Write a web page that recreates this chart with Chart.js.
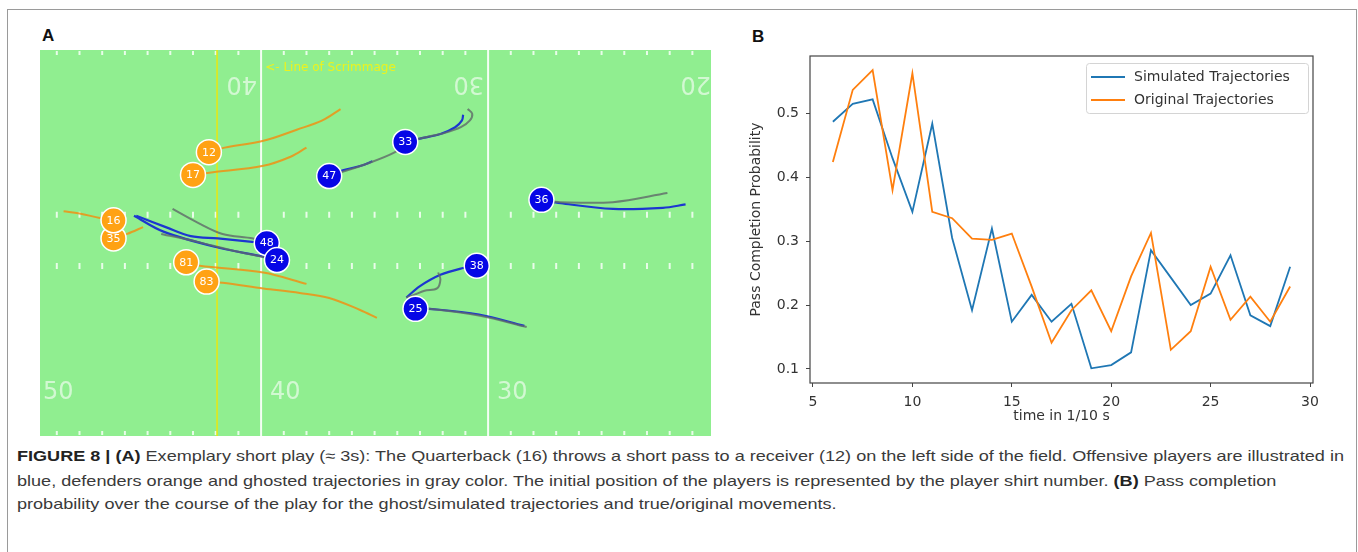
<!DOCTYPE html>
<html>
<head>
<meta charset="utf-8">
<title>Figure 8</title>
<script src="https://cdn.jsdelivr.net/npm/chart.js@4.4.1/dist/chart.umd.min.js"></script>
<style>
  body { margin: 0; width: 1358px; height: 552px; background: #fff; position: relative; overflow: hidden; }
  .frame { position: absolute; left: 7px; top: 9px; width: 1350px; height: 600px; border: 1px solid #9a9a9a; box-sizing: border-box; }
  .panel-label { position: absolute; font: bold 17px "Liberation Sans", Arial, sans-serif; color: #111; }
  #fieldChart { position: absolute; left: 40px; top: 50px; }
  #probChart { position: absolute; left: 740px; top: 20px; }
  .caption { position: absolute; left: 17px; font: 15px "Liberation Sans", Arial, sans-serif; color: #3a3a3a;
             white-space: nowrap; line-height: 18px; transform-origin: 0 50%; }
  .caption b { color: #222; }
</style>
</head>
<body>
<div class="frame"></div>
<div class="panel-label" style="left:42px; top:26px;">A</div>
<div class="panel-label" style="left:752px; top:27px;">B</div>
<canvas id="fieldChart" width="671" height="386"></canvas>
<canvas id="probChart" width="600" height="420"></canvas>

<div class="caption" style="top:447px;"><b>FIGURE 8 | (A)</b> Exemplary short play (≈ 3s): The Quarterback (16) throws a short pass to a receiver (12) on the left side of the field. Offensive players are illustrated in</div>
<div class="caption" style="top:472px;">blue, defenders orange and ghosted trajectories in gray color. The initial position of the players is represented by the player shirt number. <b>(B)</b> Pass completion</div>
<div class="caption" style="top:495px;">probability over the course of the play for the ghost/simulated trajectories and true/original movements.</div>

<script>
// ---------- Panel B: pass completion probability ----------
const timeSteps = [6, 7, 8, 9, 10, 11, 12, 13, 14, 15, 16, 17, 18, 19, 20, 21, 22, 23, 24, 25, 26, 27, 28, 29];
const simulatedProb = [0.487, 0.515, 0.522, 0.43, 0.346, 0.484, 0.305, 0.192, 0.320, 0.174, 0.216, 0.174,
                       0.202, 0.101, 0.106, 0.126, 0.286, 0.243, 0.200, 0.218, 0.278, 0.184, 0.167, 0.260];
const originalProb = [0.424, 0.537, 0.568, 0.380, 0.563, 0.346, 0.336, 0.304, 0.302, 0.312, 0.229, 0.141,
                      0.192, 0.223, 0.159, 0.245, 0.313, 0.130, 0.159, 0.260, 0.177, 0.213, 0.174, 0.229];
const seriesNames = ['Simulated Trajectories', 'Original Trajectories'];
const xTickValues = [5, 10, 15, 20, 25, 30];
const yTickValues = [0.1, 0.2, 0.3, 0.4, 0.5];

// ---------- Panel A: field (x = yards from midfield, y = yards from bottom of view) ----------
const yardLines = [10, 20];
const bottomNumbers = ['50', '40', '30'];
const bottomNumberAt = [0, 10, 20];
const topNumbers = ['40', '30', '20'];
const topNumberAt = [10, 20, 30];
const hashRows = [9.74, 7.49];
const scrimmageX = 8.06;

// drawing order = list order, so later shirts sit on top
const defenderShirts = ['12', '17', '35', '16', '81', '83'];
const defenderStart = [[7.7, 12.5], [7.0, 11.5], [3.5, 8.7], [3.5, 9.5], [6.7, 7.65], [7.6, 6.8]];
const offenseShirts = ['47', '33', '36', '48', '24', '38', '25'];
const offenseStart = [[13.0, 11.45], [16.35, 12.95], [22.35, 10.4], [10.25, 8.5], [10.7, 7.75], [19.5, 7.5], [16.8, 5.6]];

const defenderPaths = [
  [[7.7, 12.5], [8.4, 12.7], [10.1, 13.0], [11.6, 13.5], [12.7, 13.9], [13.5, 14.4]],
  [[7.0, 11.5], [7.8, 11.6], [10.1, 11.9], [11.3, 12.3], [12.0, 12.7]],
  [[3.5, 9.5], [2.9, 9.6], [2.0, 9.8], [1.3, 9.9]],
  [[3.5, 8.7], [4.1, 8.9], [4.8, 9.2]],
  [[6.7, 7.65], [7.3, 7.5], [10.1, 7.2], [12.0, 6.7]],
  [[7.6, 6.8], [8.3, 6.75], [10.1, 6.5], [11.7, 6.3], [13.0, 6.08], [14.36, 5.55], [15.1, 5.2]]
];
const offensePaths = [
  [[13.0, 11.45], [13.6, 11.7], [14.4, 11.9], [14.9, 12.1]],
  [[16.35, 12.95], [17.0, 13.1], [17.9, 13.3], [18.55, 13.6], [18.85, 13.9], [18.9, 14.15]],
  [[22.35, 10.4], [23.2, 10.25], [25.5, 10.0], [27.7, 10.05], [28.7, 10.2]],
  [[10.25, 8.5], [9.6, 8.55], [8.1, 8.7], [6.9, 8.8], [5.8, 9.2], [4.5, 9.7]],
  [[10.7, 7.75], [10.1, 7.9], [8.1, 8.3], [5.7, 9.0], [4.4, 9.7]],
  [[19.5, 7.5], [18.9, 7.4], [17.9, 7.1], [17.0, 6.6], [16.4, 6.1]],
  [[16.8, 5.6], [17.4, 5.6], [19.6, 5.35], [21.6, 4.85]]
];
const ghostPaths = [
  [[13.0, 11.45], [14.4, 11.9], [15.9, 12.5], [16.35, 12.95]],
  [[16.35, 12.95], [17.2, 13.15], [18.1, 13.35], [18.8, 13.6], [19.2, 13.9], [19.3, 14.2], [19.1, 14.4]],
  [[22.35, 10.4], [23.2, 10.3], [25.5, 10.3], [27.9, 10.7]],
  [[6.1, 10.0], [7.2, 9.4], [8.3, 8.9], [9.65, 8.7], [10.25, 8.5]],
  [[5.6, 8.9], [7.2, 8.55], [8.6, 8.2], [10.0, 7.9], [10.7, 7.75]],
  [[16.4, 6.1], [16.7, 6.2], [17.2, 6.4], [17.75, 6.5], [17.9, 6.9], [17.8, 7.2]],
  [[16.8, 5.6], [17.4, 5.6], [19.65, 5.3], [21.7, 4.8]]
];

const toPoints = arr => arr.map(([x, y]) => ({ x, y }));

function pathDataset(path, color, width, order) {
  return { data: toPoints(path), showLine: true, pointRadius: 0, borderColor: color,
           borderWidth: width, tension: 0.35, order: order };
}

// green turf, hash marks and yard numbers
const fieldPlugin = {
  id: 'field',
  beforeDatasetsDraw(chart) {
    const { ctx, chartArea: a, scales: { x, y } } = chart;
    ctx.save();
    ctx.fillStyle = '#90ee90';
    ctx.fillRect(a.left, a.top, a.right - a.left, a.bottom - a.top);

    ctx.strokeStyle = 'rgba(255,255,255,0.8)';
    ctx.lineWidth = 2;
    for (let yd = Math.ceil(x.min); yd <= x.max; yd++) {
      if (yd % 10 === 0) continue;
      const px = x.getPixelForValue(yd);
      ctx.beginPath();
      hashRows.forEach(r => {
        const py = y.getPixelForValue(r);
        ctx.moveTo(px, py - 3); ctx.lineTo(px, py + 3);
      });
      ctx.moveTo(px, a.top + 1); ctx.lineTo(px, a.top + 5);
      ctx.moveTo(px, a.bottom - 5); ctx.lineTo(px, a.bottom - 1);
      ctx.stroke();
    }

    ctx.font = '24px "DejaVu Sans"';
    ctx.fillStyle = 'rgba(255,255,255,0.6)';
    ctx.textBaseline = 'middle';
    ctx.textAlign = 'left';
    bottomNumbers.forEach((t, i) => {
      ctx.fillText(t, x.getPixelForValue(bottomNumberAt[i]) + 9, y.getPixelForValue(1.89));
    });
    topNumbers.forEach((t, i) => {
      ctx.save();
      ctx.translate(x.getPixelForValue(topNumberAt[i]) - 4, y.getPixelForValue(15.55));
      ctx.rotate(Math.PI);
      ctx.fillText(t, 0, 0);
      ctx.restore();
    });

    ctx.font = '12px "DejaVu Sans"';
    ctx.fillStyle = '#ecf21e';
    ctx.fillText('<- Line of Scrimmage', x.getPixelForValue(10.18), y.getPixelForValue(16.2));
    ctx.restore();
  },
  afterDatasetsDraw(chart) {
    const { ctx } = chart;
    ctx.save();
    ctx.font = '11px "DejaVu Sans"';
    ctx.fillStyle = '#fff';
    ctx.textAlign = 'center';
    ctx.textBaseline = 'middle';
    [[0, defenderShirts], [1, offenseShirts]].forEach(([idx, shirts]) => {
      chart.getDatasetMeta(idx).data.forEach((pt, i) => ctx.fillText(shirts[i], pt.x, pt.y + 0.5));
    });
    ctx.restore();
  }
};

const lineDatasets = [];
lineDatasets.push({
  data: [{ x: scrimmageX, y: 0 }, { x: scrimmageX, y: 17 }], showLine: true, pointRadius: 0,
  borderColor: '#e8e810', borderWidth: 1.5, order: 6
});
yardLines.forEach(v => lineDatasets.push({
  data: [{ x: v, y: 0 }, { x: v, y: 17 }], showLine: true, pointRadius: 0,
  borderColor: 'rgba(255,255,255,0.9)', borderWidth: 2, order: 7
}));

new Chart(document.getElementById('fieldChart'), {
  type: 'scatter',
  data: {
    datasets: [
      { data: toPoints(defenderStart), pointRadius: 12.5, pointBackgroundColor: '#ffa214',
        pointBorderColor: '#ffffff', pointBorderWidth: 1.5, order: 0 },
      { data: toPoints(offenseStart), pointRadius: 12.5, pointBackgroundColor: '#0606e6',
        pointBorderColor: '#ffffff', pointBorderWidth: 1.5, order: 0 },
      ...ghostPaths.map(p => pathDataset(p, 'rgba(95,105,105,0.8)', 2, 2)),
      ...defenderPaths.map(p => pathDataset(p, 'rgba(240,145,20,0.85)', 2, 2)),
      ...offensePaths.map(p => pathDataset(p, '#1c36d0', 2.2, 3)),
      ...lineDatasets
    ]
  },
  options: {
    responsive: false,
    animation: false,
    events: [],
    layout: { padding: 0, autoPadding: false },
    plugins: { legend: { display: false }, tooltip: { enabled: false } },
    scales: {
      x: { type: 'linear', min: 0.26, max: 29.82, display: false },
      y: { type: 'linear', min: 0, max: 17, display: false }
    }
  },
  plugins: [fieldPlugin]
});

// ---------- Panel B chart ----------
const tickFont = { family: 'DejaVu Sans', size: 14 };
const axisColor = '#444';

const boxPlugin = {
  id: 'box',
  afterDatasetsDraw(chart) {
    const { ctx, chartArea: a } = chart;
    ctx.save();
    ctx.strokeStyle = axisColor;
    ctx.lineWidth = 1.2;
    ctx.strokeRect(a.left, a.top, a.right - a.left, a.bottom - a.top);

    // legend, upper right like matplotlib
    const w = 222, h = 50;
    const lx = a.right - 5 - w, ly = a.top + 7;
    ctx.fillStyle = 'rgba(255,255,255,0.85)';
    ctx.strokeStyle = '#d4d4d4';
    ctx.lineWidth = 1;
    ctx.beginPath();
    ctx.roundRect(lx + 0.5, ly + 0.5, w, h, 3);
    ctx.fill();
    ctx.stroke();
    ctx.font = '14px "DejaVu Sans"';
    ctx.fillStyle = '#333';
    ctx.textBaseline = 'middle';
    ctx.textAlign = 'left';
    seriesNames.forEach((name, i) => {
      const ds = chart.data.datasets.find(d => d.label === name);
      const yy = ly + 14 + i * 23;
      ctx.strokeStyle = ds.borderColor;
      ctx.lineWidth = 1.8;
      ctx.beginPath();
      ctx.moveTo(lx + 5, yy);
      ctx.lineTo(lx + 39, yy);
      ctx.stroke();
      ctx.fillText(name, lx + 48, yy);
    });
    ctx.restore();
  }
};

new Chart(document.getElementById('probChart'), {
  type: 'line',
  data: {
    datasets: [
      { label: seriesNames[0], data: timeSteps.map((t, i) => ({ x: t, y: simulatedProb[i] })),
        borderColor: '#1f77b4', borderWidth: 1.8, pointRadius: 0, tension: 0, order: 1 },
      { label: seriesNames[1], data: timeSteps.map((t, i) => ({ x: t, y: originalProb[i] })),
        borderColor: '#ff7f0e', borderWidth: 1.8, pointRadius: 0, tension: 0, order: 0 }
    ]
  },
  options: {
    responsive: false,
    animation: false,
    events: [],
    layout: { padding: { left: 8, top: 36, right: 27, bottom: 0 } },
    plugins: { legend: { display: false }, tooltip: { enabled: false } },
    scales: {
      x: {
        type: 'linear', min: 4.85, max: 30.15,
        afterBuildTicks: s => { s.ticks = xTickValues.map(v => ({ value: v })); },
        afterFit: s => { s.height = 57; },
        grid: { drawOnChartArea: false, drawTicks: true, tickLength: 4, color: axisColor },
        border: { display: false },
        ticks: { padding: 7, color: '#333', font: tickFont, maxRotation: 0, callback: v => String(v) },
        title: { display: true, text: 'time in 1/10 s', color: '#333', font: tickFont, padding: { top: 0, bottom: 15 } }
      },
      y: {
        type: 'linear', min: 0.078, max: 0.590,
        afterBuildTicks: s => { s.ticks = yTickValues.map(v => ({ value: v })); },
        afterFit: s => { s.width = 62; },
        grid: { drawOnChartArea: false, drawTicks: true, tickLength: 4, color: axisColor },
        border: { display: false },
        ticks: { padding: 7, color: '#333', font: tickFont, callback: v => v.toFixed(1) },
        title: { display: true, text: 'Pass Completion Probability', color: '#333', font: tickFont, padding: { top: 0, bottom: 0 } }
      }
    }
  },
  plugins: [boxPlugin]
});

// stretch caption lines to the width used in the figure
const captionLines = document.querySelectorAll('.caption');
const squeeze = 1327 / captionLines[0].getBoundingClientRect().width;
captionLines.forEach(el => { el.style.transform = 'scaleX(' + squeeze + ')'; });
</script>
</body>
</html>
